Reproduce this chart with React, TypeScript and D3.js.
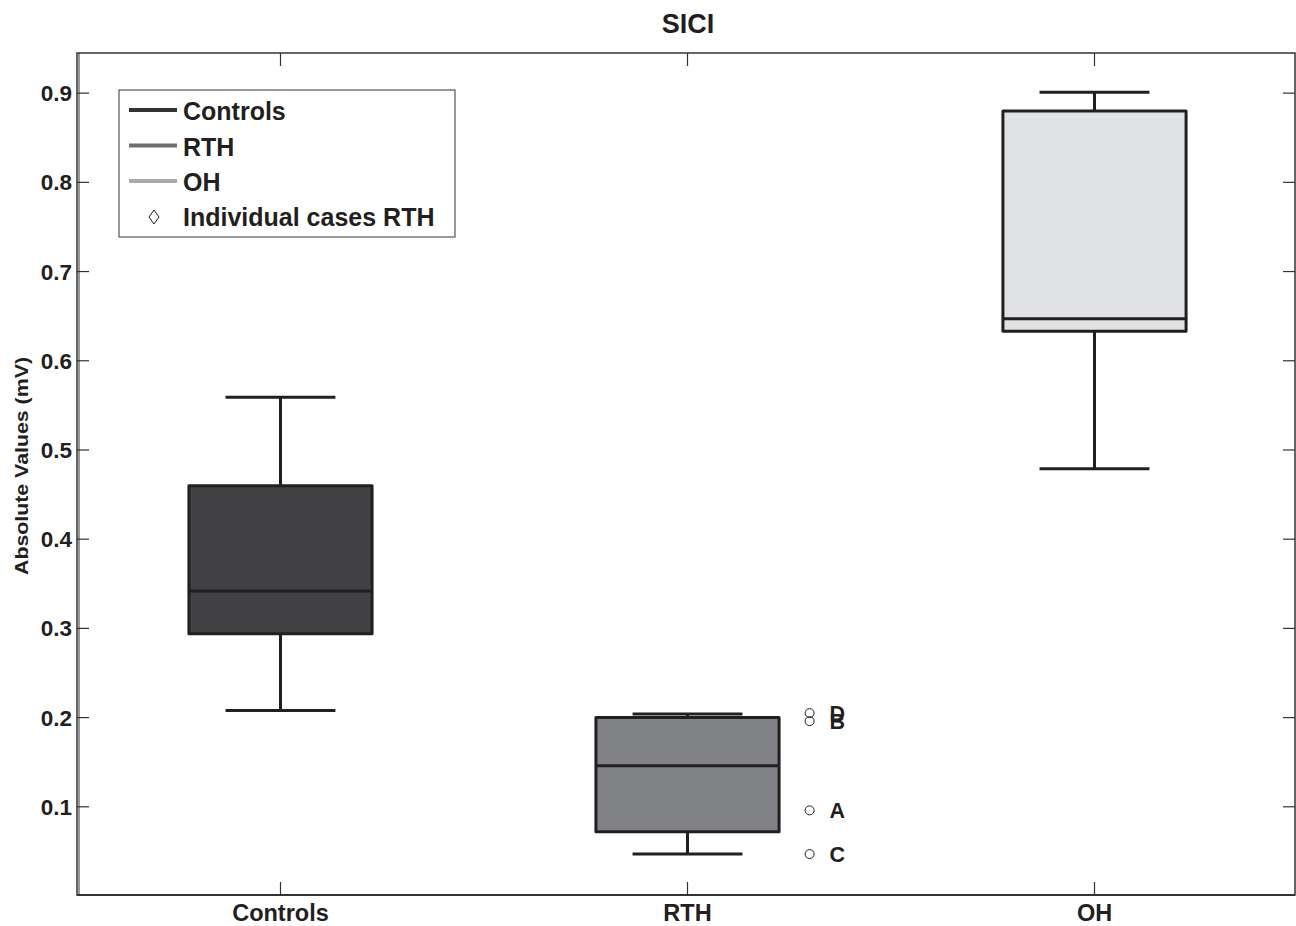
import React from "react";
import * as d3 from "d3";

const categories = ["Controls", "RTH", "OH"];
const whiskerLow = [0.208, 0.047, 0.479];
const q1 = [0.294, 0.072, 0.633];
const medians = [0.342, 0.146, 0.647];
const q3 = [0.46, 0.2, 0.88];
const whiskerHigh = [0.559, 0.204, 0.901];
const fills = ["#414042", "#808285", "#e1e2e4"];

const caseLabels = ["D", "B", "A", "C"];
const caseValues = [0.205, 0.196, 0.096, 0.047];

const yTicks = [0.1, 0.2, 0.3, 0.4, 0.5, 0.6, 0.7, 0.8, 0.9];

const legendItems = [
  { label: "Controls", color: "#333333" },
  { label: "RTH", color: "#6d6e70" },
  { label: "OH", color: "#a7a9ac" },
];

export default function App() {
  const W = 1296, H = 926;
  const left = 77, right = 1295, top = 53, bottom = 895;
  const x = d3.scaleLinear().domain([0.5, 3.5]).range([left, left + 3 * 407]);
  const y = d3.scaleLinear().domain([0, 0.945]).range([896, top]);
  const boxHalf = 0.225;
  const capHalf = 0.135;
  const font = "Liberation Sans, Arial, sans-serif";
  const lineC = "#231f20";
  const axisC = "#333";
  const textC = "#231f20";

  return (
    <svg width={W} height={H} style={{ position: "absolute", left: 0, top: 0 }} fontFamily={font}>
      <rect width={W} height={H} fill="#fff" />
      <text x={688} y={33} textAnchor="middle" fontWeight="bold" fontSize={27} fill={textC}>SICI</text>
      {/* axes frame */}
      <rect x={left} y={top} width={right - left} height={bottom - top} fill="none" stroke={axisC} strokeWidth={1.5} />
      <line x1={left + 2} x2={left + 2} y1={top} y2={bottom} stroke={axisC} strokeWidth={1} />
      <line x1={left} x2={right} y1={bottom} y2={bottom} stroke={axisC} strokeWidth={2} />
      {yTicks.map((t) => (
        <g key={t}>
          <line x1={left} x2={left + 12} y1={y(t)} y2={y(t)} stroke={axisC} strokeWidth={1.2} />
          <line x1={right - 12} x2={right} y1={y(t)} y2={y(t)} stroke={axisC} strokeWidth={1.2} />
          <text x={72} y={y(t) + 8} textAnchor="end" fontWeight="bold" fontSize={22.5} fill={textC}>{t.toFixed(1)}</text>
        </g>
      ))}
      {categories.map((c, i) => (
        <g key={c}>
          <line x1={x(i + 1)} x2={x(i + 1)} y1={top} y2={top + 13} stroke={axisC} strokeWidth={1.2} />
          <line x1={x(i + 1)} x2={x(i + 1)} y1={bottom - 13} y2={bottom} stroke={axisC} strokeWidth={1.2} />
          <text x={x(i + 1)} y={921} textAnchor="middle" fontWeight="bold" fontSize={23.5} fill={textC}>{c}</text>
        </g>
      ))}
      <text transform={`translate(28,466) rotate(-90)`} textAnchor="middle" fontWeight="bold" fontSize={19} textLength={218} lengthAdjust="spacingAndGlyphs" fill={textC}>Absolute Values (mV)</text>

      {/* boxes */}
      {categories.map((c, i) => {
        const cx = x(i + 1);
        const bl = x(i + 1 - boxHalf), br = x(i + 1 + boxHalf);
        const cl = x(i + 1 - capHalf), cr = x(i + 1 + capHalf);
        return (
          <g key={c} stroke={lineC} strokeWidth={3}>
            <line x1={cx} x2={cx} y1={y(whiskerHigh[i])} y2={y(q3[i])} />
            <line x1={cx} x2={cx} y1={y(q1[i])} y2={y(whiskerLow[i])} />
            <line x1={cl} x2={cr} y1={y(whiskerHigh[i])} y2={y(whiskerHigh[i])} />
            <line x1={cl} x2={cr} y1={y(whiskerLow[i])} y2={y(whiskerLow[i])} />
            <rect x={bl} y={y(q3[i])} width={br - bl} height={y(q1[i]) - y(q3[i])} fill={fills[i]} strokeLinejoin="round" />
            <line x1={bl} x2={br} y1={y(medians[i])} y2={y(medians[i])} />
          </g>
        );
      })}

      {/* individual cases */}
      {caseValues.map((v, i) => (
        <g key={i}>
          <circle cx={x(2 + 0.3)} cy={y(v)} r={4.5} fill="none" stroke={textC} strokeWidth={1} />
          <text x={x(2 + 0.3) + 20} y={y(v) + 8} fontWeight="bold" fontSize={21.5} fill={textC}>{caseLabels[i]}</text>
        </g>
      ))}

      {/* legend */}
      <rect x={119} y={90} width={336} height={147} fill="#fff" stroke="#555" strokeWidth={1.2} />
      {legendItems.map((l, i) => (
        <g key={l.label}>
          <line x1={129} x2={177} y1={110 + i * 35.5} y2={110 + i * 35.5} stroke={l.color} strokeWidth={4} />
          <text x={183} y={120 + i * 35.5} fontWeight="bold" fontSize={25} fill={textC}>{l.label}</text>
        </g>
      ))}
      <path d={`M154,210 L159,217 L154,224 L149,217 Z`} fill="none" stroke={textC} strokeWidth={1} />
      <text x={183} y={226} fontWeight="bold" fontSize={25} fill={textC}>Individual cases RTH</text>
    </svg>
  );
}
